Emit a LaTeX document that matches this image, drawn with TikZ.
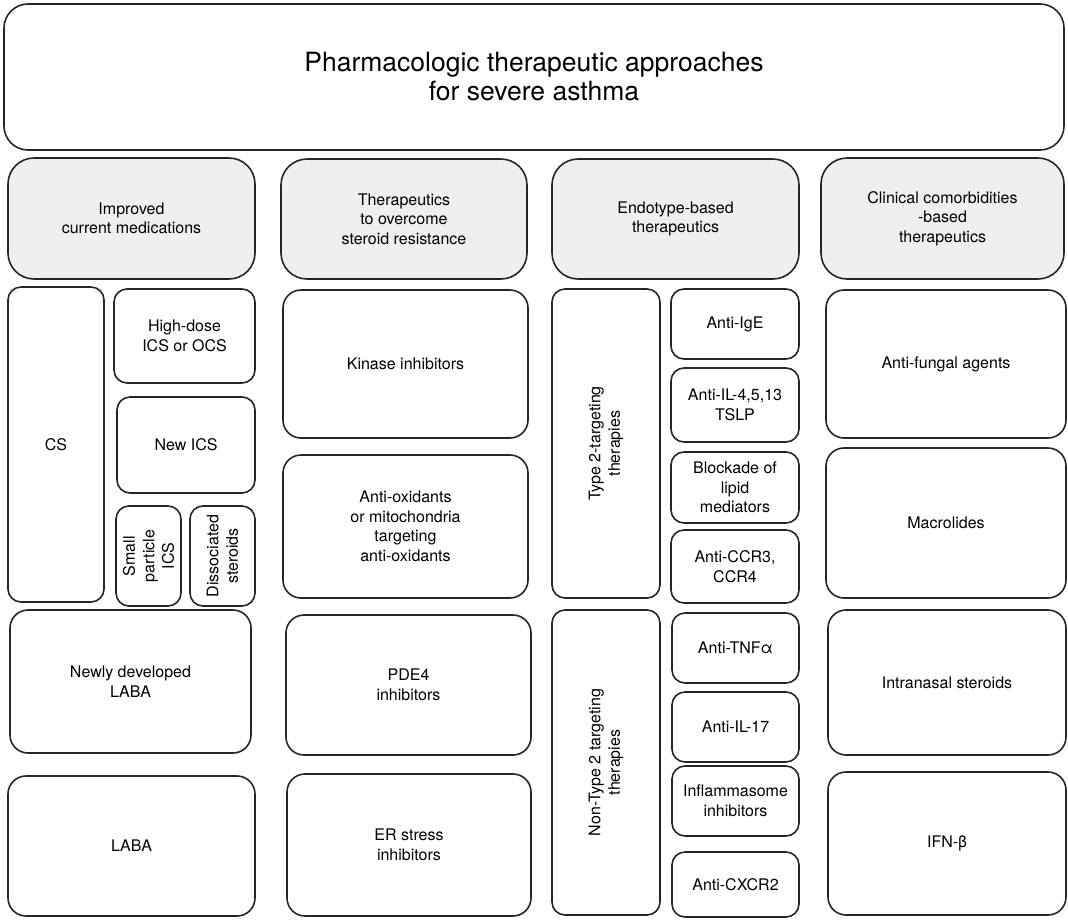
\documentclass[tikz,border=0pt]{standalone}
\usepackage{fontspec}
\setmainfont{TeX Gyre Heros}
\usepackage{tikz}
\definecolor{headfill}{RGB}{238,239,241}

\begin{document}
\begin{tikzpicture}[x=1pt,y=-1pt,
    box/.style={
      draw=black!85,
      line width=1.6pt,
      rounded corners=18pt,
      align=center,
      inner sep=3pt,
      font=\fontsize{16}{19.5}\selectfont
    },
    head/.style={box, fill=headfill, rounded corners=26pt},
    sub/.style={box, rounded corners=13pt},
    dims/.style 2 args={minimum width=#1pt, minimum height=#2pt}
  ]
  \useasboundingbox (0,0) rectangle (1068,919);
  \node[box, rounded corners=24pt, dims={1060}{146},
        font=\fontsize{26.5}{29}\selectfont] (top) at (534,77)
        {Pharmacologic therapeutic approaches\\for severe asthma};

  \node[head, dims={247}{121}] (improved) at (131.5,218.5) {Improved\\current medications};
  \node[head, dims={246}{120}] (resist) at (404,219) {Therapeutics\\to overcome\\steroid resistance};
  \node[head, dims={247}{120}] (endo) at (675.5,219) {Endotype-based\\therapeutics};
  \node[head, dims={243}{121}] (clinic) at (942.5,218.5) {Clinical comorbidities\\-based\\therapeutics};

  \node[sub, dims={96}{315}] (cs) at (56,444.5) {CS};
  \node[sub, dims={141}{94}] (hidose) at (184.5,336) {High-dose\\ICS or OCS};
  \node[sub, dims={138}{96}] (newics) at (186,445) {New ICS};
  \node[sub, rotate=90, dims={100}{65}] (smallics) at (148.5,556) {Small\\particle\\ICS};
  \node[sub, rotate=90, dims={100}{65}] (dissoc) at (222.5,556) {Dissociated\\steroids};
  \node[box, dims={241}{143}] (newlaba) at (130.5,681.5) {Newly developed\\LABA};
  \node[box, dims={247}{140}] (laba) at (131.5,846) {LABA};

  \node[box, dims={245}{148}] (kinase) at (405.5,364) {Kinase inhibitors};
  \node[box, dims={245}{143}] (antiox) at (405.5,526.5) {Anti-oxidants\\or mitochondria\\targeting\\anti-oxidants};
  \node[box, dims={245}{140}] (pde) at (408.5,685) {PDE4\\inhibitors};
  \node[box, dims={244}{142}] (erstress) at (409,845) {ER stress\\inhibitors};

  \node[sub, rotate=90, dims={309}{108}] (typetwo) at (606,443.5) {Type 2-targeting\\therapies};
  \node[sub, dims={128}{70}] (ige) at (735,324) {Anti-IgE};
  \node[sub, dims={128}{74}] (ilfour) at (735,405) {Anti-IL-4,5,13\\TSLP};
  \node[sub, dims={128}{71}] (lipid) at (735,487.5) {Blockade of\\lipid\\mediators};
  \node[sub, dims={128}{73}] (ccr) at (735,566.5) {Anti-CCR3,\\CCR4};
  \node[sub, rotate=90, dims={305}{108}] (nontwo) at (606,762.5) {Non-Type 2 targeting\\therapies};
  \node[sub, dims={127}{70}] (tnf) at (735.5,648) {Anti-TNFα};
  \node[sub, dims={127}{70}] (ilseventeen) at (735.5,727) {Anti-IL-17};
  \node[sub, dims={127}{70}] (inflam) at (735.5,801) {Inflammasome\\inhibitors};
  \node[sub, dims={127}{65}] (cxcr) at (735.5,884.5) {Anti-CXCR2};

  \node[box, dims={240}{148}] (fungal) at (946,364) {Anti-fungal agents};
  \node[box, dims={240}{150}] (macro) at (946,523) {Macrolides};
  \node[box, dims={238}{145}] (nasal) at (947,682.5) {Intranasal steroids};
  \node[box, dims={238}{143}] (ifn) at (947,843.5) {IFN-β};
\end{tikzpicture}
\end{document}
